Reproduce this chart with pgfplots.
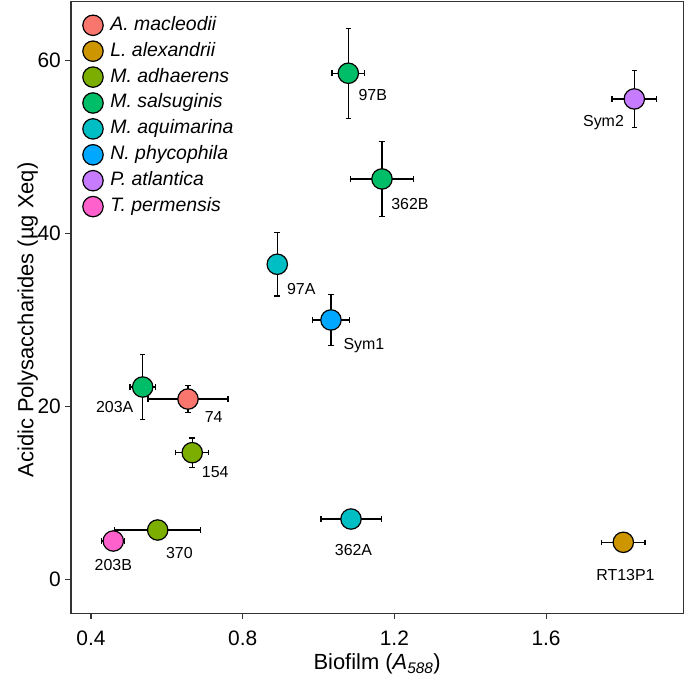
\documentclass[border=0pt]{standalone}
\usepackage{fontspec}
\setmainfont{Liberation Sans}
\usepackage{pgfplots}
\pgfplotsset{compat=1.18}
\usepackage{pgfplotstable}
\usetikzlibrary{calc}

\definecolor{cA}{HTML}{F8766D}
\definecolor{cL}{HTML}{CD9600}
\definecolor{cMad}{HTML}{7CAE00}
\definecolor{cMs}{HTML}{00BE67}
\definecolor{cMaq}{HTML}{00BFC4}
\definecolor{cN}{HTML}{00A9FF}
\definecolor{cP}{HTML}{C77CFF}
\definecolor{cT}{HTML}{FF61CC}

% x y xerr yerr
\pgfplotstableread{
x y ex ey
0.6558 20.84 0.1055 1.54
}\tblA
\pgfplotstableread{
x y ex ey
1.8036 4.28 0.057 0.6
}\tblL
\pgfplotstableread{
x y ex ey
0.6670 14.64 0.0435 1.68
0.5759 5.70 0.113 0.6
}\tblMad
\pgfplotstableread{
x y ex ey
0.5363 22.23 0.0334 3.76
1.0785 58.50 0.043 5.2
1.1673 46.28 0.0836 4.3
}\tblMs
\pgfplotstableread{
x y ex ey
0.8912 36.42 0.015 3.66
1.0856 6.97 0.0795 0.6
}\tblMaq
\pgfplotstableread{
x y ex ey
1.0328 29.98 0.0484 2.95
}\tblN
\pgfplotstableread{
x y ex ey
1.8326 55.53 0.0585 3.3
}\tblP
\pgfplotstableread{
x y ex ey
0.4588 4.43 0.0303 0.6
}\tblT
% strain labels: point, label, offset in bp
\pgfplotstableread{
x y lab dx dy
0.6558 20.84 74 25.7 -18
1.8036 4.28 RT13P1 2.2 -32.7
0.6670 14.64 154 23 -19
0.5759 5.70 370 21.7 -22.8
0.5363 22.23 203A -28 -20
1.0785 58.50 97B 24.5 -22
1.1673 46.28 362B 28 -24.5
0.8912 36.42 97A 24 -24.4
1.0856 6.97 362A 2.5 -31
1.0328 29.98 Sym1 33 -23.3
1.8326 55.53 Sym2 -30.8 -21.5
0.4588 4.43 203B 0 -24
}\tblLab

\pgfplotsset{
  eb/.style={forget plot, only marks, mark=none,
    error bars/x dir=both, error bars/y dir=both,
    error bars/x explicit, error bars/y explicit,
    error bars/error bar style={black, line width=1.4bp},
    error bars/error mark options={rotate=90, black, line width=1.3bp, mark size=2.8bp}},
  pt/.style={only marks, mark=*, mark size=10.2bp,
    mark options={fill=#1, draw=black, line width=1.2bp}}
}

\begin{document}
\begin{tikzpicture}
\begin{axis}[name=ax, scale only axis, width=612.3bp, height=611.8bp,
  xmin=0.3473, xmax=1.9618, ymin=-3.95, ymax=66.77,
  xtick={0.4,0.8,1.2,1.6}, xticklabels={0.4,0.8,1.2,1.6},
  ytick={0,20,40,60}, yticklabels={0,20,40,60},
  tick align=outside, major tick length=5.5bp,
  xtick pos=left, ytick pos=left,
  axis line style={black!80, line width=1.2bp},
  tick style={black!80, line width=1.1bp},
  ticklabel style={font=\fontsize{21}{25}\selectfont},
  xticklabel style={anchor=base, inner sep=0pt, yshift=-26bp},
  yticklabel style={anchor=east, inner sep=0pt, xshift=-4.5bp},
  xlabel={Biofilm (\textit{A}\textsubscript{\itshape 588})},
  ylabel={Acidic Polysaccharides (µg Xeq)},
  label style={font=\fontsize{22}{26}\selectfont},
  xlabel style={at={(axis description cs:0.5,0)}, anchor=base, inner sep=0pt, yshift=-56bp},
  ylabel style={at={(axis description cs:0,0.5)}, anchor=base, inner sep=0pt, xshift=-12.4bp, yshift=37.7bp},
  legend image code/.code={\draw[#1] plot coordinates {(0bp,0bp)};},
  legend cell align=left,
  legend style={at={(axis description cs:0,1)}, anchor=north west,
    xshift=11.6bp, yshift=-13.2bp, draw=none, fill=none, inner sep=0pt,
    row sep=5.5bp, column sep=7.2bp,
    font=\fontsize{19.5}{23}\selectfont\itshape,
    nodes={inner sep=0pt, text height=14bp, text depth=4bp}},
]
\addplot[eb] table[x=x, y=y, x error=ex, y error=ey]{\tblA};
\addplot[eb] table[x=x, y=y, x error=ex, y error=ey]{\tblL};
\addplot[eb] table[x=x, y=y, x error=ex, y error=ey]{\tblMad};
\addplot[eb] table[x=x, y=y, x error=ex, y error=ey]{\tblMs};
\addplot[eb] table[x=x, y=y, x error=ex, y error=ey]{\tblMaq};
\addplot[eb] table[x=x, y=y, x error=ex, y error=ey]{\tblN};
\addplot[eb] table[x=x, y=y, x error=ex, y error=ey]{\tblP};
\addplot[eb] table[x=x, y=y, x error=ex, y error=ey]{\tblT};
\addplot[pt=cA] table[x=x, y=y]{\tblA};
\addlegendentry{A. macleodii}
\addplot[pt=cL] table[x=x, y=y]{\tblL};
\addlegendentry{L. alexandrii}
\addplot[pt=cMad] table[x=x, y=y]{\tblMad};
\addlegendentry{M. adhaerens}
\addplot[pt=cMs] table[x=x, y=y]{\tblMs};
\addlegendentry{M. salsuginis}
\addplot[pt=cMaq] table[x=x, y=y]{\tblMaq};
\addlegendentry{M. aquimarina}
\addplot[pt=cN] table[x=x, y=y]{\tblN};
\addlegendentry{N. phycophila}
\addplot[pt=cP] table[x=x, y=y]{\tblP};
\addlegendentry{P. atlantica}
\addplot[pt=cT] table[x=x, y=y]{\tblT};
\addlegendentry{T. permensis}
\addplot[forget plot, only marks, mark=none, nodes near coords,
  point meta=explicit symbolic,
  visualization depends on={\thisrow{dx}\as\dx},
  visualization depends on={\thisrow{dy}\as\dy},
  nodes near coords style={anchor=center, xshift=\dx bp, yshift=\dy bp,
    font=\fontsize{16}{19}\selectfont, text=black, inner sep=0pt,
    text height=11.5bp, text depth=0bp}]
  table[x=x, y=y, meta=lab]{\tblLab};
\end{axis}
\pgfresetboundingbox
\path[use as bounding box] ($(ax.south west)+(-71bp,-65.5bp)$) rectangle ($(ax.north east)+(1.7bp,1.7bp)$);
\end{tikzpicture}
\end{document}
